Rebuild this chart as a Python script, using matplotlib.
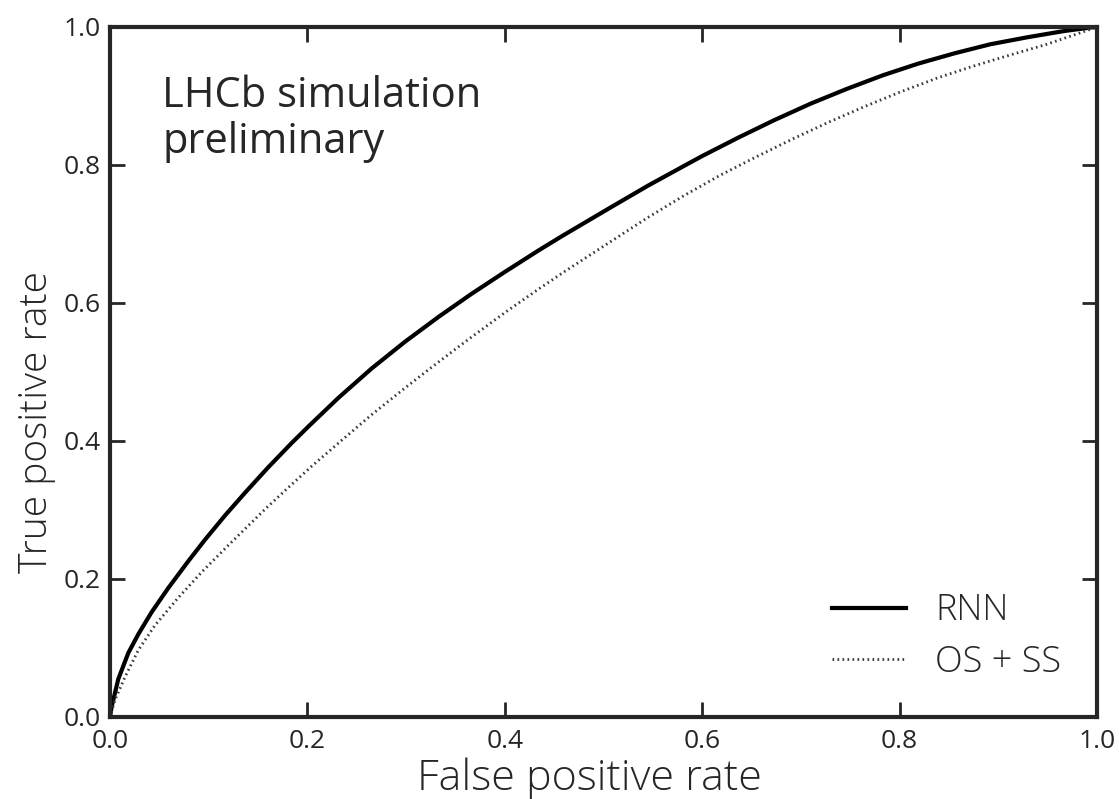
import matplotlib
matplotlib.use("Agg")
import matplotlib.pyplot as plt

# ROC curves for the two taggers (false positive rate, true positive rate)
rnn_fpr = [0.0, 0.0017, 0.0084, 0.0186, 0.0287, 0.0422, 0.0591, 0.0794, 0.0963,
           0.1165, 0.1368, 0.1604, 0.184, 0.201, 0.231, 0.265, 0.299, 0.333,
           0.366, 0.400, 0.434, 0.458, 0.509, 0.545, 0.582, 0.600, 0.637, 0.673,
           0.710, 0.746, 0.783, 0.819, 0.856, 0.892, 0.929, 0.966, 0.995, 1.0]
rnn_tpr = [0.0, 0.015, 0.055, 0.093, 0.120, 0.152, 0.187, 0.226, 0.257,
           0.292, 0.325, 0.362, 0.397, 0.421, 0.462, 0.505, 0.544, 0.580,
           0.613, 0.645, 0.676, 0.697, 0.740, 0.770, 0.799, 0.813, 0.840, 0.865,
           0.889, 0.910, 0.930, 0.947, 0.962, 0.975, 0.985, 0.994, 0.9995, 1.0]

osss_fpr = [0.0, 0.0051, 0.0152, 0.0287, 0.0456, 0.0692, 0.0929, 0.120, 0.157,
            0.181, 0.204, 0.238, 0.265, 0.299, 0.326, 0.360, 0.400, 0.434, 0.461,
            0.545, 0.582, 0.618, 0.655, 0.692, 0.728, 0.765, 0.801, 0.838, 0.874,
            0.911, 0.947, 0.984, 1.0]
osss_tpr = [0.0, 0.025, 0.058, 0.097, 0.133, 0.173, 0.210, 0.249, 0.301,
            0.333, 0.363, 0.405, 0.438, 0.477, 0.507, 0.544, 0.586, 0.620, 0.646,
            0.724, 0.756, 0.785, 0.812, 0.838, 0.862, 0.885, 0.906, 0.926, 0.943,
            0.959, 0.974, 0.992, 1.0]

labels = ["RNN", "OS + SS"]
ticks = [0.0, 0.2, 0.4, 0.6, 0.8, 1.0]

plt.rcParams['font.family'] = ['Open Sans', 'DejaVu Sans']
ink = '#262626'

fig = plt.figure(figsize=(11.19, 7.99), dpi=100)
ax = fig.add_axes([110 / 1119, 82 / 799, 987 / 1119, 690 / 799])

ax.plot(rnn_fpr, rnn_tpr, color='black', lw=3.0, label=labels[0])
ax.plot(osss_fpr, osss_tpr, color='#3a3a3a', lw=2.0, linestyle=(0, (0.6, 1.2)),
        label=labels[1])

ax.set_xlim(0, 1)
ax.set_ylim(0, 1)
ax.set_xticks(ticks)
ax.set_yticks(ticks)
ax.set_xticklabels(["%.1f" % t for t in ticks])
ax.set_yticklabels(["%.1f" % t for t in ticks])
ax.tick_params(direction='in', top=True, right=True, length=11, width=2,
               color=ink, labelsize=19, labelcolor=ink)
ax.tick_params(axis='x', pad=9)
ax.tick_params(axis='y', pad=7)
for sp in ax.spines.values():
    sp.set_linewidth(3)
    sp.set_color(ink)

ax.set_xlabel("False positive rate", fontsize=31, fontweight='light', color=ink)
ax.set_ylabel("True positive rate", fontsize=28, fontweight='light', color=ink)
ax.xaxis.set_label_coords(0.486, -0.058)
ax.yaxis.set_label_coords(-0.055, 0.428)

ax.text(0.053, 0.930, "LHCb simulation\npreliminary", transform=ax.transAxes,
        fontsize=30, color=ink, va='top', ha='left', linespacing=1.12)

leg = ax.legend(loc='lower right', frameon=False, fontsize=26, handlelength=2.05,
                handletextpad=0.8, labelspacing=0.4, borderaxespad=0.6)
for t in leg.get_texts():
    t.set_fontweight('light')
    t.set_color(ink)

fig.savefig("out.png", dpi=100)
